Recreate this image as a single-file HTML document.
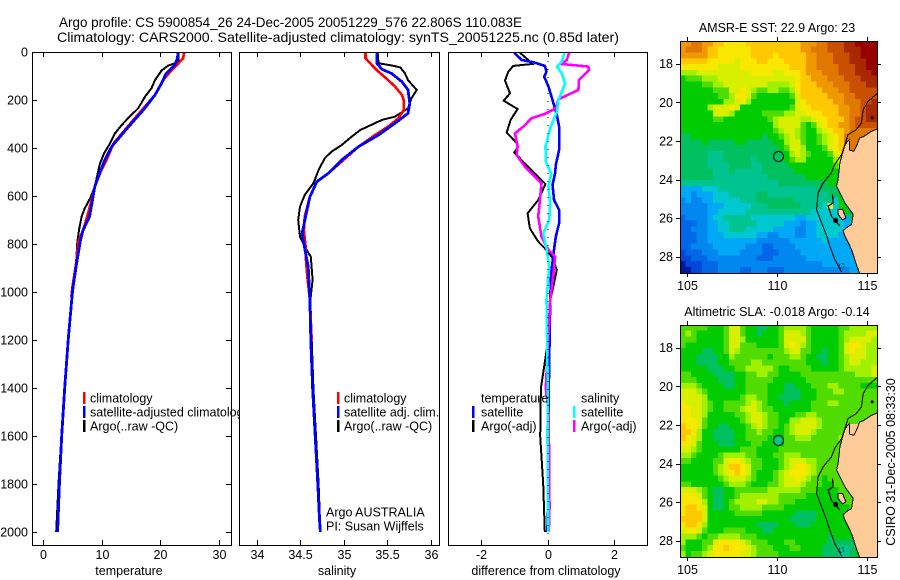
<!DOCTYPE html>
<html>
<head>
<meta charset="utf-8">
<title>Argo profile</title>
<style>
html,body{margin:0;padding:0;background:#fff;}
svg{display:block;}
text{font-family:"Liberation Sans",sans-serif;font-size:12.5px;fill:#000;}
</style>
</head>
<body>
<svg id="chart" xmlns="http://www.w3.org/2000/svg" width="900" height="580" viewBox="0 0 900 580">
  <rect x="0" y="0" width="900" height="580" fill="#fff"/>
  <g id="panels"></g>
  <g id="maps"></g>
  <text x="59" y="27" textLength="463" lengthAdjust="spacingAndGlyphs" style="font-size:14px">Argo profile: CS 5900854_26 24-Dec-2005 20051229_576 22.806S 110.083E</text>
  <text x="57" y="42" textLength="562" lengthAdjust="spacingAndGlyphs" style="font-size:14px">Climatology: CARS2000. Satellite-adjusted climatology: synTS_20051225.nc (0.85d later)</text>
  <text transform="translate(895,462) rotate(-90)" text-anchor="middle">CSIRO 31-Dec-2005 08:33:30</text>
</svg>
<script>
// ---------- profile data ----------
const depthTicks = [0,200,400,600,800,1000,1200,1400,1600,1800,2000];
const tempTicks = [0,10,20,30];
const salTicks = [34,34.5,35,35.5,36];
const salTickLabels = ['34','34.5','35','35.5','36'];
const diffTicks = [-2,0,2];

const tempArgoDepth = [0,33,47,56,78,117,151,186,235,276,304,339,381,422,464,506,561,610,651,686,742,797,881,936,978,1020,1200,1400,1600,1800,2000];
const tempArgoValue = [23.1,23.1,22.5,21.4,20.2,19.1,18.5,17.4,16.2,14.5,13.4,12.25,11.4,10.4,9.7,9.3,8.8,8.0,7.1,6.55,6.1,5.8,5.6,5.25,5.0,4.9,4.2,3.6,3.1,2.6,2.2];
const tempClimDepth = [0,26,47,82,117,179,235,283,332,381,450,506,561,631,686,742,790,881,978,1020];
const tempClimValue = [24.1,23.9,23.1,21.7,20.5,19.1,17.1,15.4,13.7,12,10.8,9.7,8.8,8.1,7.5,6.8,6,5.6,5,4.8];
const tempSatDepth = [0,26,54,89,131,179,242,297,345,394,450,506,561,631,686,742,790,881,978,1020,1200,1400,1600,1800,2000];
const tempSatValue = [23.1,22.9,22.5,21,20.2,19.1,17.1,15.1,13.4,11.7,10.5,9.6,8.8,8.3,7.9,6.8,6.3,5.7,5.1,4.9,4.25,3.65,3.15,2.75,2.45];

const salArgoDepth = [3,47,56,64,89,117,158,193,235,269,283,325,353,388,415,443,492,547,596,644,700,770,818,853,950,1033,1200,1400,1600,1800,2000];
const salArgoValue = [35.39,35.40,35.55,35.65,35.705,35.74,35.84,35.78,35.74,35.59,35.44,35.19,35.09,34.975,34.86,34.78,34.71,34.65,34.55,34.495,34.475,34.495,34.56,34.62,34.64,34.615,34.63,34.65,34.68,34.71,34.73];
const salClimDepth = [3,26,61,82,110,144,179,200,242,276,311,346,394,457,506,540,603,686,742,811,867,936,1033,1200];
const salClimValue = [35.25,35.25,35.34,35.40,35.49,35.59,35.67,35.69,35.69,35.63,35.51,35.36,35.17,34.975,34.82,34.69,34.61,34.55,34.54,34.56,34.565,34.58,34.61,34.63];
const salSatDepth = [3,47,72,89,124,158,214,256,297,346,394,450,506,540,603,686,756,818,894,1033,1200,1400,1600,1800,1950,2000];
const salSatValue = [35.38,35.38,35.44,35.55,35.67,35.74,35.76,35.74,35.59,35.40,35.17,34.975,34.82,34.69,34.61,34.56,34.52,34.55,34.59,34.61,34.62,34.64,34.67,34.70,34.72,34.73];

const diffTempArgoDepth = [3,33,50,58,82,119,172,203,238,283,336,374,394,419,464,506,550,617,672,735,790,818,853,908,1006,1033,1200,1400,1600,1800,2000];
const diffTempArgoValue = [-0.83,-0.58,-0.46,-1.03,-1.18,-1.28,-1.13,-1.32,-0.9,-1.11,-1.23,-0.96,-0.88,-1.0,-0.68,-0.38,-0.06,-0.28,-0.6,-0.53,-0.28,-0.08,0.13,0.28,0.13,0.08,0.02,-0.2,-0.22,-0.13,-0.08];
const diffTempSatDepth = [3,33,44,58,82,103,144,200,262,311,408,471,506,554,617,658,714,770,839,922,1033,1400,2000];
const diffTempSatValue = [-1.0,-0.78,-0.38,-0.08,-0.03,-0.1,0.03,0.15,0.28,0.35,0.35,0.25,0.23,0.15,0.2,0.35,0.35,0.25,0.18,0.11,0.08,0.04,0];
const diffSalArgoDepth = [3,33,50,61,75,117,158,197,235,258,276,311,339,394,429,478,547,617,686,770,825,853,922,1033,1400,1500,1700,1900,2000];
const diffSalArgoValue = [0.65,0.58,0.43,1.23,1.25,0.95,0.93,0.33,0.25,-0.08,-0.48,-0.73,-0.98,-0.9,-0.93,-0.68,-0.18,-0.23,-0.28,-0.18,0.03,0.23,0.18,0.08,-0.05,0.03,0.05,0.06,0.04];
const diffSalSatDepth = [3,40,61,89,131,200,249,318,394,457,506,561,631,700,756,818,894,1033,1400,1600,2000];
const diffSalSatValue = [0.51,0.43,0.28,0.43,0.53,0.33,0.28,0.08,-0.06,-0.05,0.11,0.03,0.08,0.05,-0.13,-0.03,0.05,-0.03,0.01,0,0.02];

// ---------- map data (colour levels per grid cell, north to south) ----------
const lonTicks = [105,110,115];
const latTicks = [18,20,22,24,26,28];
const mapCols = 36;
const mapRows = 40;
const sstLevels = [
[14,14,15,15,14,14,13,13,12,12,12,12,13,13,13,13,13,13,13,13,13,13,14,14,14,15,15,16,16,16,17,17,18,18,18,18],
[14,15,15,15,14,13,13,12,12,12,12,12,12,13,13,13,13,13,13,13,13,13,14,14,15,15,15,16,16,16,17,17,17,18,18,18],
[14,14,14,14,14,13,13,12,12,12,12,12,12,13,13,13,13,12,13,13,13,13,13,14,14,15,15,15,16,16,16,17,17,18,18,18],
[13,13,13,13,13,12,12,12,12,12,11,12,12,12,13,13,12,12,12,13,13,13,13,14,14,15,15,15,16,16,16,17,17,17,18,18],
[12,12,12,12,12,12,12,11,11,11,11,12,12,12,12,12,12,12,12,12,13,13,13,14,14,15,15,15,15,16,16,16,17,17,18,18],
[10,10,10,11,11,11,11,11,11,11,11,11,11,12,12,12,12,11,11,12,12,12,13,14,14,14,15,15,15,16,16,16,17,17,17,18],
[8,9,9,9,10,10,10,11,11,11,11,11,11,11,11,11,11,11,11,11,11,12,13,13,14,14,14,15,15,15,16,16,16,17,17,17],
[8,8,8,8,9,9,10,10,11,11,11,11,11,11,11,11,10,10,10,10,11,12,13,13,13,14,14,14,15,15,15,16,16,16,17,17],
[8,8,8,8,8,8,9,9,9,11,11,12,11,10,9,9,10,10,9,9,10,12,13,13,13,13,14,14,14,15,15,16,16,16,16,16],
[8,8,8,8,8,8,8,9,9,10,12,12,11,9,8,8,8,8,8,8,9,11,13,13,13,13,13,14,14,14,15,15,16,16,16,16],
[8,8,8,8,8,8,8,8,10,10,11,12,10,8,8,8,8,8,8,8,8,11,12,13,13,13,13,13,14,14,15,15,15,16,16,17],
[8,8,8,8,8,10,11,11,11,12,11,8,8,8,8,8,8,8,8,8,9,11,12,12,13,13,13,13,13,14,14,15,15,16,17,17],
[8,8,8,8,8,8,11,11,11,10,8,8,8,8,8,9,9,9,9,10,10,11,11,12,12,12,13,13,13,14,14,15,15,16,17,17],
[8,8,8,8,8,8,9,9,8,8,8,8,8,8,8,8,9,10,11,11,11,11,10,10,11,12,12,13,13,13,14,15,16,16,17,17],
[8,8,8,8,8,8,8,8,8,8,8,8,8,8,8,8,8,10,11,11,11,11,9,8,9,11,12,13,13,14,14,15,16,16,16,16],
[8,8,8,8,8,8,8,8,8,8,8,8,8,8,8,8,8,9,10,11,11,10,9,8,8,10,11,12,13,13,14,15,15,15,15,15],
[7,7,8,8,8,8,8,8,8,8,8,8,8,8,8,7,8,8,9,10,11,10,9,8,8,9,10,11,12,13,15,15,15,15,15,15],
[7,7,7,7,8,7,7,7,7,7,8,8,7,7,7,7,7,8,8,10,11,11,9,8,8,9,10,11,12,13,15,15,15,15,15,15],
[7,7,7,7,7,7,7,7,7,7,7,7,7,7,7,7,7,7,8,9,11,11,10,8,8,8,9,11,12,13,13,15,15,15,15,15],
[7,7,7,7,7,6,6,6,7,7,7,7,7,7,7,7,7,7,7,8,10,11,10,9,8,8,8,9,11,12,12,12,12],
[7,7,7,7,7,6,6,6,7,7,7,7,7,6,7,7,7,7,7,8,9,10,10,8,8,8,8,8,10,11,10,10],
[7,7,7,7,7,6,6,6,6,7,7,7,7,6,6,7,7,7,7,7,8,8,8,8,8,8,8,8,9,10,10],
[7,7,7,7,7,7,6,6,6,7,6,6,6,6,6,7,7,7,7,7,7,8,8,8,8,8,8,8,8,9,10],
[7,7,7,7,7,7,6,6,6,6,6,6,6,6,6,6,7,7,7,7,7,7,7,8,8,8,8,8,8,8,9],
[6,6,6,6,6,6,6,6,6,6,6,6,6,6,6,6,6,6,7,7,7,7,7,7,7,7,7,8,8,8,8],
[4,4,4,4,5,5,5,6,6,6,6,6,6,6,6,6,6,6,6,6,6,6,6,6,6,7,7,7,7,8,8,8],
[4,4,3,4,4,4,5,5,5,6,6,6,6,6,7,7,6,6,6,6,6,6,6,6,6,6,6,7,7,8,8,8,8],
[3,4,3,3,4,4,5,5,5,5,5,6,6,6,7,7,7,7,7,7,7,6,6,6,6,6,6,6,5,8,8,8,8,8],
[3,3,3,3,3,4,4,4,5,5,5,5,5,6,6,6,7,7,7,7,7,7,6,6,6,6,5,12,5,8,8,8,8,8,8],
[3,3,3,3,3,4,4,5,5,5,5,5,6,6,6,6,6,6,6,6,6,6,6,6,5,5,5,5,5,6,8,7,8,8,8,8],
[2,3,3,3,3,4,5,5,6,6,6,6,6,5,5,5,5,5,5,5,5,4,4,5,5,5,5,5,5,5,4,7,8,8,10,8],
[2,2,2,3,3,4,4,5,5,6,6,6,6,6,5,5,5,5,5,4,4,4,3,4,4,5,5,5,5,5,4,5,10,11,8,8],
[2,2,3,3,3,4,4,5,5,6,6,6,5,5,5,5,5,4,4,4,4,3,3,4,4,5,5,5,5,5,4,4,11,8,8,8],
[2,2,2,3,3,4,4,4,5,5,5,5,5,5,4,4,3,3,4,4,4,3,3,4,4,5,5,5,5,4,4,4,4,8,8,8],
[2,2,2,3,3,4,4,4,4,4,4,4,4,4,3,3,3,3,3,3,4,4,4,4,4,4,5,4,4,4,4,4,4,4],
[2,2,3,3,3,3,4,4,4,4,4,4,3,3,3,2,2,3,3,3,3,4,4,4,4,4,4,4,4,4,4,4,4,4],
[1,2,2,2,3,3,3,4,4,4,4,3,3,3,3,2,2,2,3,3,3,3,4,4,4,4,4,4,4,4,4,4,4,4],
[1,1,2,2,2,3,3,3,3,3,3,3,3,3,2,2,2,3,3,3,3,3,3,4,4,4,4,4,4,4,4,4,4,4],
[0,1,1,1,2,2,2,3,3,3,3,3,3,3,3,3,3,3,3,3,3,3,3,3,3,3,4,4,4,4,4,4,4,4,4,4],
[0,0,1,1,2,2,2,3,3,3,3,2,2,3,3,3,2,2,2,3,3,3,3,3,3,3,3,3,3,3,3,4,4,3,3,3]
];
const slaLevels = [
[9,9,9,9,9,8,8,8,9,11,11,9,8,8,7,7,8,8,9,10,10,10,10,9,8,8,8,8,8,9,9,10,10,10,10,10],
[9,10,9,8,8,8,8,8,9,11,11,9,8,8,7,8,8,8,9,11,11,11,10,9,8,8,8,8,8,9,10,10,10,10,11,11],
[9,9,9,8,8,8,8,8,9,11,11,10,8,8,8,8,8,8,9,11,11,11,11,9,8,8,8,8,8,9,10,11,11,11,11,10],
[9,8,8,8,8,8,8,8,9,11,11,9,9,9,8,8,8,8,9,11,12,11,10,9,8,8,8,8,8,9,11,12,12,11,10,10],
[8,8,8,8,7,7,8,8,9,11,10,9,9,9,9,9,9,9,9,10,11,11,9,9,8,8,7,8,8,9,11,12,11,11,10,10],
[8,8,8,7,7,7,7,8,8,10,9,9,9,9,9,9,8,9,9,9,10,10,9,8,8,7,7,8,8,9,10,11,11,11,10,10],
[8,8,8,7,7,7,7,8,8,9,9,9,9,10,10,9,9,9,9,9,9,9,9,8,8,8,7,8,8,9,10,11,11,10,10,10],
[8,8,8,8,8,7,7,7,8,8,9,9,10,10,10,10,10,9,8,8,9,9,9,9,8,8,8,8,8,9,10,10,10,10,10,11],
[9,9,8,8,8,8,7,7,7,7,8,8,9,9,10,10,9,9,8,8,8,8,9,9,9,9,9,9,9,9,9,9,10,10,10,11],
[9,9,9,8,8,8,8,7,7,7,8,8,9,9,9,9,9,8,8,8,8,8,8,9,9,9,9,9,9,9,9,9,9,9,9,9],
[10,10,10,9,8,8,8,8,7,7,8,8,9,9,9,9,8,8,8,7,7,8,8,8,9,9,9,10,10,9,9,9,9,8,8,8],
[11,11,11,10,9,8,8,8,8,8,8,8,9,9,9,9,8,8,8,7,7,7,8,8,8,9,9,9,10,10,9,9,9,9,9,9],
[11,11,11,11,10,8,8,8,8,8,8,9,10,10,9,9,8,8,7,7,7,7,8,8,8,9,9,9,9,9,9,9,9,9,9,9],
[12,11,11,11,10,9,8,8,9,9,9,9,10,11,10,9,8,8,8,7,8,8,8,8,9,9,9,10,10,9,9,9,9,9,9,9],
[12,12,11,11,10,9,8,8,9,9,9,10,11,11,10,9,9,8,8,8,8,8,8,8,9,9,9,9,9,9,9,9,9,9,9,9],
[12,12,11,11,10,8,8,8,8,8,9,9,10,11,11,10,9,9,8,8,8,9,9,10,10,9,9,9,9,9,9,9,9,9,9,9],
[12,12,12,11,9,8,8,8,8,8,8,9,10,11,11,10,9,9,8,8,10,10,11,11,11,10,9,9,9,9,9,9,9,9],
[13,12,12,11,9,8,8,7,7,8,8,8,9,10,11,10,9,9,8,9,10,11,11,11,11,10,9,9,9,9,9],
[13,13,12,10,8,8,7,7,7,7,8,8,9,9,10,9,9,8,8,9,10,11,11,11,10,9,9,9,9,9,9],
[13,12,11,10,8,8,7,7,7,7,8,8,9,9,9,9,8,8,8,9,9,10,10,10,9,9,9,9,9,10,10],
[12,12,11,9,8,8,8,7,7,7,8,8,8,9,9,8,8,8,8,9,9,9,9,9,9,9,9,9,9,9,9],
[11,11,10,9,8,8,8,8,8,8,8,9,9,9,8,8,8,8,9,9,9,9,9,9,9,9,9,9,9,9,9],
[10,10,9,8,8,8,8,9,10,10,10,10,9,9,8,8,8,9,9,10,10,10,9,9,9,9,9,9,9,9],
[9,9,8,8,8,8,9,9,11,12,12,11,10,9,9,8,8,8,9,10,11,11,11,10,10,9,9,9,9,9],
[8,8,8,8,8,8,9,10,11,13,13,12,11,9,9,8,8,8,9,10,11,12,12,11,10,9,9,9,9],
[8,8,8,8,8,8,9,10,11,12,13,12,11,9,8,8,8,9,10,11,12,12,12,11,10,9,9,9,9],
[8,8,8,8,8,8,8,9,10,11,11,11,10,9,8,8,8,9,10,11,11,12,11,10,9,9,8,9,9,9,9],
[9,9,8,8,8,8,8,8,9,10,10,10,9,8,8,8,9,9,10,11,11,11,10,9,9,9,8,8,9,9,9],
[11,11,11,10,9,8,7,7,8,8,9,9,9,9,9,9,10,10,10,10,10,10,9,9,9,8,8,8,8,9,9,9],
[12,12,12,11,9,8,7,7,8,8,9,10,10,10,10,10,10,10,9,9,9,9,9,8,8,8,8,8,8,9,9,9,9],
[12,12,12,12,10,8,7,7,8,9,10,10,10,10,11,11,10,10,9,9,9,8,8,8,8,8,8,8,8,8,9,9,9],
[12,13,13,12,11,8,7,7,8,9,9,10,10,10,10,9,9,9,9,8,8,8,8,8,8,8,8,8,8,8,8,9,9],
[12,13,13,13,11,8,8,8,8,8,9,9,9,9,9,8,8,8,8,8,8,7,7,7,7,8,8,8,8,8,8,8,8,8],
[13,13,13,13,11,8,8,8,8,8,8,8,8,8,8,8,8,8,8,8,7,7,7,7,7,8,8,8,8,8,8,8,8,8],
[12,13,13,12,10,8,8,8,8,8,8,8,8,8,7,7,7,7,8,8,8,7,7,7,8,8,8,8,8,8,8,8,8,8],
[11,12,12,11,9,8,8,8,9,9,9,9,8,8,8,7,7,8,8,8,8,8,8,8,8,8,8,8,8,8,8,8,8,8],
[10,10,10,9,8,9,9,10,10,10,10,9,9,9,8,8,8,8,8,8,8,8,8,8,8,8,8,7,8,8,8,8,8,8,8],
[10,8,8,8,9,9,11,12,12,12,12,11,10,9,9,9,8,8,8,9,9,8,8,8,8,8,8,7,7,7,7,7,8,8,8],
[9,8,8,8,9,10,12,12,13,12,12,12,11,10,9,9,9,8,8,8,9,9,8,8,8,8,7,7,7,6,6,7,8,8,8],
[10,8,9,9,10,11,12,12,12,12,12,11,11,10,9,9,9,9,8,8,8,8,8,8,8,8,7,7,7,6,6,7,8,8,8]
];
const coastLon = [115.7,115.58,115.26,114.8,114.61,114.42,114.28,114.05,114.02,113.79,113.65,113.5,113.4,113.31,113.59,113.78,114.24,114.15,113.87,113.68,113.78,114.15,114.42,114.61,115.7];
const coastLat = [21.38,21.38,21.5,21.79,21.84,22.28,22.53,22.48,21.93,22.19,22.62,23.14,24.0,24.34,24.86,25.21,25.81,26.33,26.5,26.67,26.93,27.62,28.4,28.9,28.9];
const peninsulaLon = [113.4,113.65,113.83,113.65,113.4];
const peninsulaLat = [25.55,25.55,25.98,26.1,25.81];
const isobathLon = [115.58,115.07,114.8,114.7,114.42,113.96,113.78,113.59,113.22,113.03,112.57,112.29,112.2,112.48,112.76,112.94,113.22,113.59];
const isobathLat = [19.55,19.95,20.38,21.07,21.41,21.67,22.19,22.71,23.22,23.66,24.17,24.69,25.55,26.24,26.93,27.45,28.14,28.79];
const bayLon = [113.09,113.13,112.85,113.03,113.5];
const bayLat = [24.78,25.21,25.38,25.9,26.41];
const floatLon = 110.08;
const floatLat = 22.81;
const sstFloatLevel = 7;
const slaFloatLevel = 6;

// ---------- colour scale ----------
const levelColors = ['#0018a0','#0048d8','#0068e8','#0088f0','#00a8f8','#00c8d0','#00c490','#00c060','#00cc00','#50dc00','#a0f000','#d8f000','#f8e800','#ffc800','#f09800','#e07800','#c85000','#a82800','#980000'];

// ---------- helpers ----------
const NS = 'http://www.w3.org/2000/svg';
function mk(parent, tag, attrs, txt) {
  const el = document.createElementNS(NS, tag);
  for (const k in attrs) el.setAttribute(k, attrs[k]);
  if (txt !== undefined) el.textContent = txt;
  parent.appendChild(el);
  return el;
}
function yDepth(d) { return 52 + d * 0.24; }
function pathOf(xs, ys) { return xs.map((x, i) => (i ? 'L' : 'M') + x.toFixed(1) + ' ' + ys[i].toFixed(1)).join(''); }

const panelsRoot = document.getElementById('panels');
const mapsRoot = document.getElementById('maps');

function drawPanel(name, left, right, xOf, ticks, tickLabels, xTitle, xTitleCx, series, withDepth) {
  const g = mk(panelsRoot, 'g', {});
  
  
  const bg = mk(g, 'rect', { x: left, y: 52, width: right - left, height: 493, fill: '#fff' });
  
  
  series.forEach(s => {
    const xs = s.values.map(xOf);
    const ys = s.depth.map(yDepth);
    const p = mk(g, 'path', { d: pathOf(xs, ys), fill: 'none', stroke: s.color, 'stroke-width': s.width, 'stroke-linejoin': 'miter', 'shape-rendering': 'crispEdges' });
    
    
  });
  const fr = mk(g, 'rect', { x: left + 0.5, y: 52.5, width: right - left, height: 493, fill: 'none', stroke: '#000', 'stroke-width': 1.4, 'shape-rendering': 'crispEdges' });
  
  
  ticks.forEach((t, i) => {
    const x = Math.round(xOf(t)) + 0.5;
    const a = mk(g, 'path', { d: 'M' + x + ' 52V57M' + x + ' 545V540', stroke: '#000', fill: 'none', 'shape-rendering': 'crispEdges' });
    
    
    const l = mk(g, 'text', { x: x, y: 559, 'text-anchor': 'middle' }, tickLabels[i]);
    
    
  });
  const xt = mk(g, 'text', { x: xTitleCx, y: 575, 'text-anchor': 'middle' }, xTitle);
  
  
  if (withDepth) {
    depthTicks.forEach(d => {
      const y = Math.round(yDepth(d)) + 0.5;
      const a = mk(g, 'path', { d: 'M' + left + ' ' + y + 'h5M' + right + ' ' + y + 'h-5', stroke: '#000', fill: 'none', 'shape-rendering': 'crispEdges' });
      
      
      const l = mk(g, 'text', { x: 28, y: yDepth(d) + 4.5, 'text-anchor': 'end' }, String(d));
      
      
    });
  }
  return g;
}
function legendRow(g, name, barX, textX, y, color, label) {
  if (color) {
    const b = mk(g, 'rect', { x: barX, y: y - 6, width: 2.4, height: 12, fill: color, 'shape-rendering': 'crispEdges' });
    
    
  }
  const t = mk(g, 'text', { x: textX, y: y + 4.5 }, label);
  
  
}

// ---------- temperature panel ----------
const xTemp = v => 43.3 + 5.85 * v;
const p1 = drawPanel('temperature', 32, 231, xTemp, tempTicks, tempTicks.map(String), 'temperature', 129, [
  { name: 'argo', color: '#000', width: 2, depth: tempArgoDepth, values: tempArgoValue },
  { name: 'climatology', color: '#f00', width: 2.6, depth: tempClimDepth, values: tempClimValue },
  { name: 'satellite', color: '#00f', width: 2.8, depth: tempSatDepth, values: tempSatValue }
], true);
legendRow(p1, 'temperature-legend-climatology', 83, 90, 398, '#f00', 'climatology');
legendRow(p1, 'temperature-legend-satellite', 83, 90, 412, '#00f', 'satellite-adjusted climatology');
legendRow(p1, 'temperature-legend-argo', 83, 90, 426, '#000', 'Argo(..raw -QC)');

// ---------- salinity panel ----------
const xSal = v => 257 + 86.8 * (v - 34);
const p2 = drawPanel('salinity', 239, 439, xSal, salTicks, salTickLabels, 'salinity', 337, [
  { name: 'argo', color: '#000', width: 2, depth: salArgoDepth, values: salArgoValue },
  { name: 'climatology', color: '#f00', width: 2.6, depth: salClimDepth, values: salClimValue },
  { name: 'satellite', color: '#00f', width: 2.8, depth: salSatDepth, values: salSatValue }
], false);
legendRow(p2, 'salinity-legend-climatology', 337, 344, 398, '#f00', 'climatology');
legendRow(p2, 'salinity-legend-satellite', 337, 344, 412, '#00f', 'satellite adj. clim.');
legendRow(p2, 'salinity-legend-argo', 337, 344, 426, '#000', 'Argo(..raw -QC)');
legendRow(p2, 'float-owner', 0, 326, 512, null, 'Argo AUSTRALIA');
legendRow(p2, 'principal-investigator', 0, 326, 526, null, 'PI: Susan Wijffels');

// ---------- difference panel ----------
const xDiff = v => 547.5 + 33.2 * v;
const p3 = drawPanel('difference', 448, 647, xDiff, diffTicks, diffTicks.map(String), 'difference from climatology', 546, [
  { name: 'temperature-argo', color: '#000', width: 2, depth: diffTempArgoDepth, values: diffTempArgoValue },
  { name: 'temperature-satellite', color: '#00f', width: 2.6, depth: diffTempSatDepth, values: diffTempSatValue },
  { name: 'salinity-argo', color: '#f0f', width: 2.6, depth: diffSalArgoDepth, values: diffSalArgoValue },
  { name: 'salinity-satellite', color: '#0ff', width: 2.6, depth: diffSalSatDepth, values: diffSalSatValue }
], false);
const zeroLine = mk(p3, 'line', { x1: xDiff(0) + 0.5, x2: xDiff(0) + 0.5, y1: 53, y2: yDepth(2015), stroke: '#000', 'stroke-width': 1, 'stroke-dasharray': '1 7', 'shape-rendering': 'crispEdges' });


legendRow(p3, 'difference-legend-temperature-heading', 0, 481, 398, null, 'temperature');
legendRow(p3, 'difference-legend-temperature-satellite', 472, 481, 412, '#00f', 'satellite');
legendRow(p3, 'difference-legend-temperature-argo', 472, 481, 426, '#000', 'Argo(-adj)');
legendRow(p3, 'difference-legend-salinity-heading', 0, 581, 398, null, 'salinity');
legendRow(p3, 'difference-legend-salinity-satellite', 573, 581, 412, '#0ff', 'satellite');
legendRow(p3, 'difference-legend-salinity-argo', 573, 581, 426, '#f0f', 'Argo(-adj)');

// ---------- maps ----------
const lonMin = 104.59, lonMax = 115.56, latMin = 16.82, latMax = 28.83;
function drawMap(name, top, levels, floatLevel, title, clipId) {
  const left = 680, w = 197, h = 232;
  const xLon = lon => 687.3 + 17.95 * (lon - 105);
  const yLat = lat => top + 22.7 + 19.3 * (lat - 18);
  const g = mk(mapsRoot, 'g', {});
  
  
  const defs = mk(g, 'defs', {});
  const cp = mk(defs, 'clipPath', { id: clipId });
  mk(cp, 'rect', { x: left, y: top, width: w, height: h });
  const body = mk(g, 'g', { 'clip-path': 'url(#' + clipId + ')' });
  
  
  const base = mk(body, 'rect', { x: left, y: top, width: w, height: h, fill: '#ffcc99' });
  
  
  const dLon = (lonMax - lonMin) / mapCols, dLat = (latMax - latMin) / mapRows;
  levels.forEach((row, r) => {
    row.forEach((lev, c) => {
      const x0 = xLon(lonMin + c * dLon), y0 = yLat(latMin + r * dLat);
      const cell = mk(body, 'rect', { x: x0.toFixed(2), y: y0.toFixed(2), width: (17.95 * dLon + 0.4).toFixed(2), height: (19.3 * dLat + 0.4).toFixed(2), fill: levelColors[Math.max(0, Math.min(levelColors.length - 1, Math.round(lev)))], 'shape-rendering': 'crispEdges' });
      
      
    });
  });
  const land = mk(body, 'path', { d: pathOf(coastLon.map(xLon), coastLat.map(yLat)) + 'Z', fill: '#ffcc99', stroke: '#000', 'stroke-width': 1, 'shape-rendering': 'crispEdges' });
  
  
  const pen = mk(body, 'path', { d: pathOf(peninsulaLon.map(xLon), peninsulaLat.map(yLat)) + 'Z', fill: '#ffcc99', stroke: '#000', 'stroke-width': 1, 'shape-rendering': 'crispEdges' });
  
  
  const iso = mk(body, 'path', { d: pathOf(isobathLon.map(xLon), isobathLat.map(yLat)), fill: 'none', stroke: '#000', 'stroke-width': 1, 'shape-rendering': 'crispEdges' });
  
  
  const bay = mk(body, 'path', { d: pathOf(bayLon.map(xLon), bayLat.map(yLat)), fill: 'none', stroke: '#000', 'stroke-width': 1.2, 'shape-rendering': 'crispEdges' });
  
  
  const blob = mk(body, 'circle', { cx: xLon(113.26), cy: yLat(26.12), r: 2.6, fill: '#000' });
  
  
  const speck = mk(body, 'circle', { cx: xLon(115.3), cy: yLat(20.81), r: 1.5, fill: '#000' });
  
  
  const ring = mk(body, 'circle', { cx: xLon(113.59), cy: yLat(28.48), r: 2.5, fill: 'none', stroke: '#000', 'stroke-width': 0.8, 'stroke-dasharray': '2 2' });
  
  
  const marker = mk(g, 'circle', { cx: xLon(floatLon), cy: yLat(floatLat), r: 5, fill: levelColors[floatLevel], stroke: '#000', 'stroke-width': 1 });
  
  
  const fr = mk(g, 'rect', { x: left + 0.5, y: top + 0.5, width: w, height: h, fill: 'none', stroke: '#000', 'stroke-width': 1.4, 'shape-rendering': 'crispEdges' });
  
  
  lonTicks.forEach(lon => {
    const x = Math.round(xLon(lon)) + 0.5;
    const tk = mk(g, 'path', { d: 'M' + x + ' ' + top + 'v-4M' + x + ' ' + (top + h) + 'v4', stroke: '#000', fill: 'none', 'shape-rendering': 'crispEdges' });
    
    
    const l = mk(g, 'text', { x: x, y: top + h + 17, 'text-anchor': 'middle' }, String(lon));
    
    
  });
  latTicks.forEach(lat => {
    const y = Math.round(yLat(lat)) + 0.5;
    const tk = mk(g, 'path', { d: 'M' + left + ' ' + y + 'h-4M' + (left + w) + ' ' + y + 'h4', stroke: '#000', fill: 'none', 'shape-rendering': 'crispEdges' });
    
    
    const l = mk(g, 'text', { x: 673, y: yLat(lat) + 4.5, 'text-anchor': 'end' }, String(lat));
    
    
  });
  const tt = mk(g, 'text', { x: 777, y: top - 9, 'text-anchor': 'middle' }, title);
  
  
}
drawMap('sst', 41, sstLevels, sstFloatLevel, 'AMSR-E SST: 22.9 Argo: 23', 'clip-sst');
drawMap('sla', 325, slaLevels, slaFloatLevel, 'Altimetric SLA: -0.018 Argo: -0.14', 'clip-sla');
</script>
</body>
</html>
